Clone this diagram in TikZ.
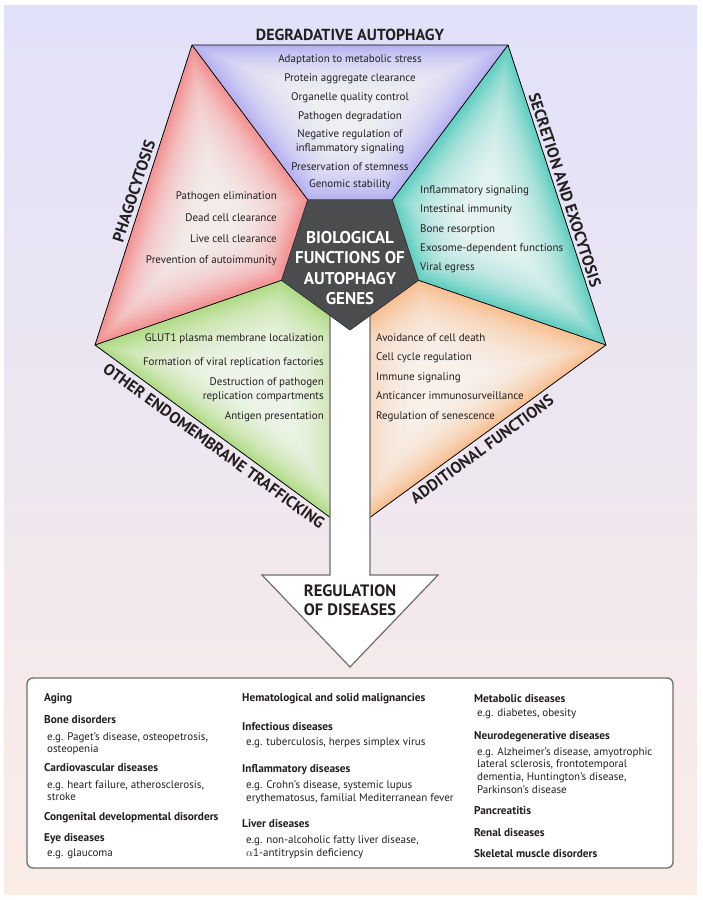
\documentclass[tikz,border=0pt]{standalone}
\usepackage{fontspec}
\setmainfont{PT Sans}
\usetikzlibrary{calc}
\definecolor{bgtop}{HTML}{E1E1FA}
\definecolor{bgbot}{HTML}{FBECE6}
\definecolor{cLav}{HTML}{B8B4F0}
\definecolor{cRed}{HTML}{F29696}
\definecolor{cTeal}{HTML}{66D0C2}
\definecolor{cGreen}{HTML}{B2DC8A}
\definecolor{cOrange}{HTML}{F7C296}
\definecolor{cDark}{HTML}{4B4C4E}
\definecolor{cText}{HTML}{231F20}
\definecolor{cGray}{HTML}{6D6E70}
\newcommand\regionglow[5]{%
  \foreach \s in {0.95,0.92,...,0.26}
    \fill[white,fill opacity=0.08] ($(#1)!\s!(#2)$) -- ($(#1)!\s!(#3)$) -- ($(#1)!\s!(#4)$) -- ($(#1)!\s!(#5)$) -- cycle;}
\tikzset{
  item/.style={font=\fontsize{11}{13}\selectfont, text=cText, inner sep=0pt},
  itemc/.style={item, anchor=base},
  iteml/.style={item, anchor=base west},
  itemr/.style={item, anchor=base east},
  head/.style={font=\fontsize{16}{18}\selectfont\bfseries, text=cText, inner sep=0pt},
  bt/.style={font=\fontsize{11.3}{13}\selectfont\bfseries, text=cText, inner sep=0pt, anchor=base west},
  bs/.style={font=\fontsize{11}{13}\selectfont, text=cText, inner sep=0pt, anchor=base west},
  edge/.style={draw=black, line width=0.8pt, line join=miter},
}
\begin{document}
\begin{tikzpicture}[x=1pt,y=-1pt]
\useasboundingbox (0,0) rectangle (702,900);
\shade[top color=bgtop, bottom color=bgbot] (4,5) rectangle (697,894);
% outer pentagon
\coordinate (OTL) at (192,45);
\coordinate (OTR) at (508,45);
\coordinate (OR) at (606,345);
\coordinate (OB) at (350,532);
\coordinate (OL) at (95,345);
% inner pentagon
\coordinate (ITL) at (307.7,199.8);
\coordinate (ITR) at (392.3,199.8);
\coordinate (IR) at (418.5,280.3);
\coordinate (IB) at (350,330);
\coordinate (IL) at (281.5,280.3);
% region centres
\coordinate (CT) at (350,112);
\coordinate (CL) at (215,220);
\coordinate (CR) at (485,220);
\coordinate (CBL) at (262,382);
\coordinate (CBR) at (438,382);
% regions
\fill[cLav] (OTL) -- (OTR) -- (ITR) -- (ITL) -- cycle;
\regionglow{CT}{OTL}{OTR}{ITR}{ITL}
\fill[cRed] (OTL) -- (ITL) -- (IL) -- (OL) -- cycle;
\regionglow{CL}{OTL}{ITL}{IL}{OL}
\fill[cTeal] (OTR) -- (OR) -- (IR) -- (ITR) -- cycle;
\regionglow{CR}{OTR}{OR}{IR}{ITR}
\fill[cGreen] (OL) -- (IL) -- (IB) -- (OB) -- cycle;
\regionglow{CBL}{OL}{IL}{IB}{OB}
\fill[cOrange] (IR) -- (OR) -- (OB) -- (IB) -- cycle;
\regionglow{CBR}{IR}{OR}{OB}{IB}
\draw[edge] (OTL) -- (OTR) -- (OR) -- (OB) -- (OL) -- cycle;
\draw[edge] (OTL) -- (ITL) (OTR) -- (ITR) (OL) -- (IL) (OR) -- (IR) (OB) -- (IB);
% arrow
\coordinate (AS1) at (330,305);
\coordinate (AS2) at (330,575);
\coordinate (AH1) at (262,575);
\coordinate (AT) at (350,667);
\coordinate (AH2) at (438,575);
\coordinate (AS3) at (370,575);
\coordinate (AS4) at (370,305);
\draw[fill=white, draw=cGray, line width=1.2pt, line join=miter] (AS1) -- (AS2) -- (AH1) -- (AT) -- (AH2) -- (AS3) -- (AS4);
% inner pentagon
\draw[fill=cDark, draw=black!80, line width=0.8pt] (ITL) -- (ITR) -- (IR) -- (IB) -- (IL) -- cycle;
\node[font=\fontsize{17}{20.5}\selectfont\bfseries, text=white, align=center, inner sep=0pt] (centre) at (350,268) {BIOLOGICAL\\FUNCTIONS OF\\AUTOPHAGY\\GENES};
\node[font=\fontsize{16.5}{19}\selectfont\bfseries, text=cText, align=center, inner sep=0pt] (reg) at (350,600) {REGULATION\\OF DISEASES};
% headings
\node[head] (hDeg) at (350,35) {DEGRADATIVE AUTOPHAGY};
\node[head, rotate=72] (hPha) at (134,191) {PHAGOCYTOSIS};
\node[head, rotate=-72] (hSec) at (565,190) {SECRETION AND EXOCYTOSIS};
\node[head, rotate=-36] (hOth) at (214,446) {OTHER ENDOMEMBRANE TRAFFICKING};
\node[head, rotate=36] (hAdd) at (482,449) {ADDITIONAL FUNCTIONS};
% top items
\node[itemc] (d1) at (350,62) {Adaptation to metabolic stress};
\node[itemc] (d2) at (350,81) {Protein aggregate clearance};
\node[itemc] (d3) at (350,100.5) {Organelle quality control};
\node[itemc] (d4) at (350,119.5) {Pathogen degradation};
\node[itemc] (d5) at (350,137) {Negative regulation of};
\node[itemc] (d6) at (350,151) {inflammatory signaling};
\node[itemc] (d7) at (350,170) {Preservation of stemness};
\node[itemc] (d8) at (350,187) {Genomic stability};
% left items
\node[itemr] (p1) at (277,199) {Pathogen elimination};
\node[itemr] (p2) at (277,221) {Dead cell clearance};
\node[itemr] (p3) at (277,242) {Live cell clearance};
\node[itemr] (p4) at (277,263) {Prevention of autoimmunity};
% right items
\node[iteml] (s1) at (420,193) {Inflammatory signaling};
\node[iteml] (s2) at (420,212) {Intestinal immunity};
\node[iteml] (s3) at (420,232) {Bone resorption};
\node[iteml] (s4) at (420,251) {Exosome-dependent functions};
\node[iteml] (s5) at (420,270) {Viral egress};
% bottom-left items
\node[itemr] (o1) at (324,341) {GLUT1 plasma membrane localization};
\node[itemr] (o2) at (324,365) {Formation of viral replication factories};
\node[itemr] (o3) at (324,385) {Destruction of pathogen};
\node[itemr] (o4) at (324,399) {replication compartments};
\node[itemr] (o5) at (324,419) {Antigen presentation};
% bottom-right items
\node[iteml] (a1) at (376,341) {Avoidance of cell death};
\node[iteml] (a2) at (376,360) {Cell cycle regulation};
\node[iteml] (a3) at (376,380) {Immune signaling};
\node[iteml] (a4) at (376,399) {Anticancer immunosurveillance};
\node[iteml] (a5) at (376,419) {Regulation of senescence};
% disease box
\draw[draw=cGray, line width=1.3pt, fill=white, rounded corners=6pt] (27,678) rectangle (673,868);
\node[bt] (b1) at (44,701.5) {Aging};
\node[bt] (b2) at (44,723.5) {Bone disorders};
\node[bs] (b3) at (47,740.5) {e.g. Paget’s disease, osteopetrosis,};
\node[bs] (b4) at (47,752.5) {osteopenia};
\node[bt] (b5) at (44,771.5) {Cardiovascular diseases};
\node[bs] (b6) at (47,788.5) {e.g. heart failure, atherosclerosis,};
\node[bs] (b7) at (47,800.5) {stroke};
\node[bt] (b8) at (44,820.5) {Congenital developmental disorders};
\node[bt] (b9) at (44,841.5) {Eye diseases};
\node[bs] (b10) at (47,856.5) {e.g. glaucoma};
\node[bt] (c1) at (242,701.5) {Hematological and solid malignancies};
\node[bt] (c2) at (242,730.5) {Infectious diseases};
\node[bs] (c3) at (246,745.5) {e.g. tuberculosis, herpes simplex virus};
\node[bt] (c4) at (242,772.5) {Inflammatory diseases};
\node[bs] (c5) at (246,788.5) {e.g. Crohn’s disease, systemic lupus};
\node[bs] (c6) at (246,801.5) {erythematosus, familial Mediterranean fever};
\node[bt] (c7) at (242,827.5) {Liver diseases};
\node[bs] (c8) at (246,843.5) {e.g. non-alcoholic fatty liver disease,};
\node[bs] (c9) at (246,856.5) {$\alpha$1-antitrypsin deficiency};
\node[bt] (e1) at (474,702.5) {Metabolic diseases};
\node[bs] (e2) at (477,716.5) {e.g. diabetes, obesity};
\node[bt] (e3) at (474,739.5) {Neurodegenerative diseases};
\node[bs] (e4) at (477,755.5) {e.g. Alzheimer’s disease, amyotrophic};
\node[bs] (e5) at (477,767.5) {lateral sclerosis, frontotemporal};
\node[bs] (e6) at (477,780.5) {dementia, Huntington’s disease,};
\node[bs] (e7) at (477,793.5) {Parkinson’s disease};
\node[bt] (e8) at (474,814.5) {Pancreatitis};
\node[bt] (e9) at (474,836.5) {Renal diseases};
\node[bt] (e10) at (474,857.5) {Skeletal muscle disorders};
\end{tikzpicture}
\end{document}
